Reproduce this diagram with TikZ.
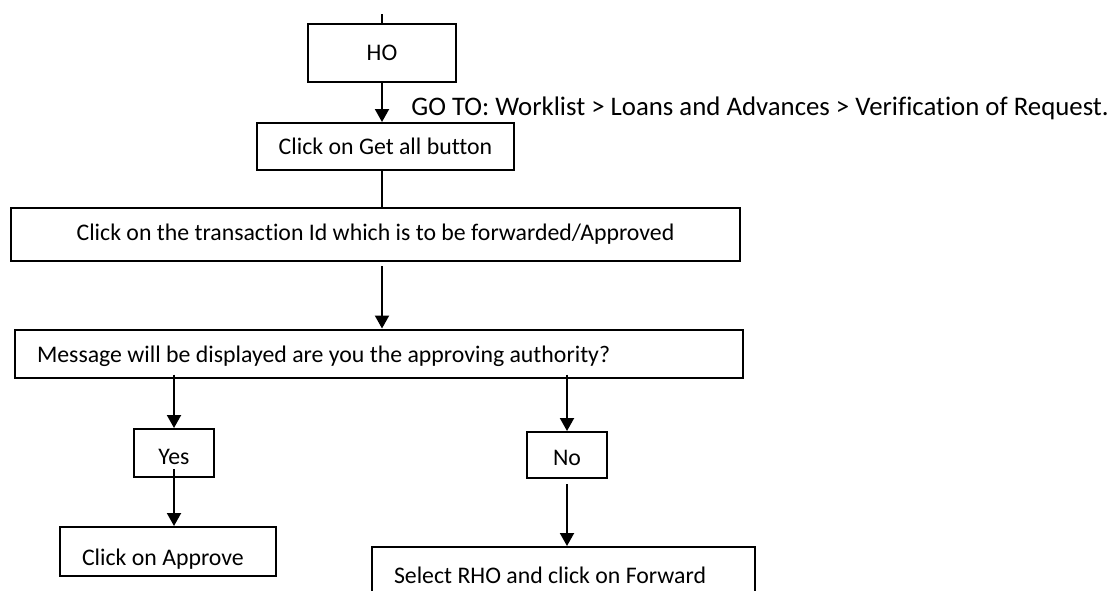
\documentclass[tikz,border=0pt]{standalone}
\usepackage{fontspec}
\setmainfont{Carlito}[Ligatures=NoCommon]
\usetikzlibrary{arrows.meta,positioning}

\begin{document}
\begin{tikzpicture}[
    x=0.5pt, y=-0.5pt,
    every node/.style={font=\fontsize{11.9}{14}\selectfont},
    box/.style={draw, line width=1pt, inner sep=0pt, align=center},
    leftbox/.style={draw, line width=1pt, inner ysep=0pt, inner xsep=11pt},
    arr/.style={-{Triangle[length=6.5pt, width=7pt]}, line width=1pt}
]
\clip (0,0) rectangle (1111,590);
\coordinate (top) at (382,14);
\node[box, minimum width=74pt, minimum height=29pt] (ho) at (382,53) {HO};
\node[box, minimum width=128.5pt, minimum height=23.5pt] (get) at (385.5,146.5) {Click on Get all button};
\node[anchor=base west, inner sep=0pt, font=\fontsize{13.4}{16}\selectfont] (goto) at (411,115) {GO TO: Worklist > Loans and Advances > Verification of Request.};
\node[box, minimum width=364.5pt, minimum height=26.5pt] (trans) at (375.5,234.5) {Click on the transaction Id which is to be forwarded/Approved};
\node[leftbox, minimum height=24pt, text height=11.5pt, text depth=2.5pt] (msg) at (379,353.5) {\makebox[342pt][l]{Message will be displayed are you the approving authority?}};
\node[box, minimum width=40pt, minimum height=24pt, text height=13.5pt, text depth=2.5pt] (yes) at (174,453) {Yes};
\node[box, minimum width=40pt, minimum height=23pt, text height=12.5pt, text depth=2.5pt] (no) at (567,455) {No};
\node[leftbox, minimum height=24.5pt, text height=16.5pt, text depth=2.5pt] (appr) at (168,551.5) {\makebox[86pt][l]{Click on Approve}};
\node[leftbox, minimum height=28pt] (sel) at (563.5,575) {\makebox[169.5pt][l]{Select RHO and click on Forward}};

\draw[line width=1pt] (top) -- (ho);
\draw[arr] (ho.south) -- (ho.south |- get.north);
\draw[line width=1pt] (get.south -| ho) -- (trans.north -| ho);
\draw[arr] ([yshift=-2pt]trans.south -| ho) -- (msg.north -| ho);
\draw[arr] ([yshift=2pt]msg.south -| yes) -- (yes.north);
\draw[arr] ([yshift=2pt]msg.south -| no) -- (no.north);
\draw[arr] ([yshift=4.5pt]yes.south) -- (yes.south |- appr.north);
\draw[arr] ([yshift=-2.5pt]no.south) -- (no.south |- sel.north);
\end{tikzpicture}
\end{document}
